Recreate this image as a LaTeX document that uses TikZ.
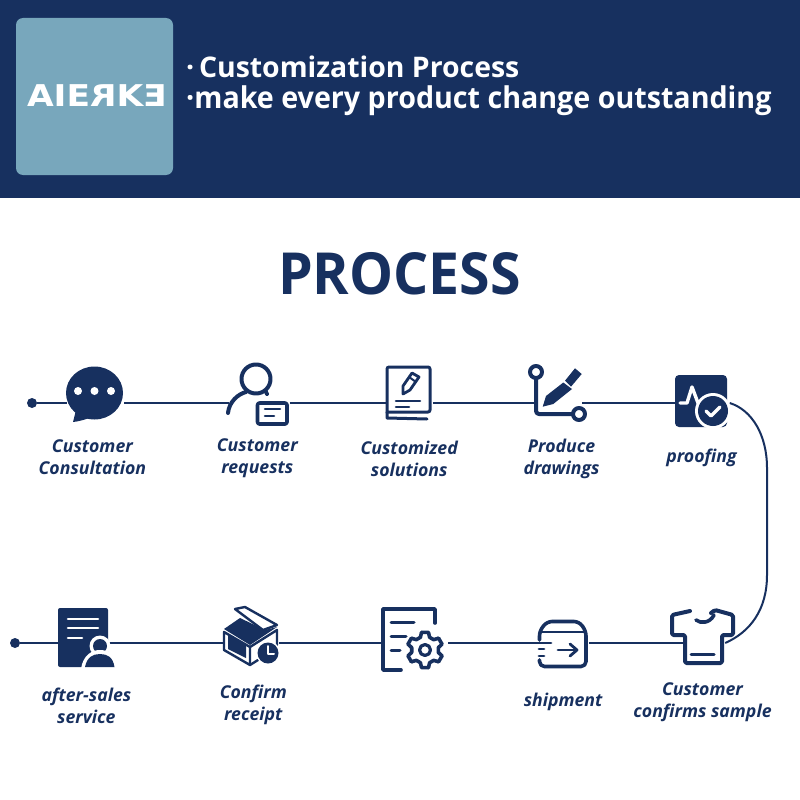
\documentclass[tikz,border=0pt]{standalone}
\usepackage{fontspec}
\setmainfont{Open Sans}
\newfontfamily\logofont{DejaVu Sans}
\usepackage{tikz}
\usetikzlibrary{positioning}
\definecolor{navy}{HTML}{17305F}
\definecolor{logoblue}{HTML}{78A7BC}

\begin{document}
\begin{tikzpicture}[
    x=1pt, y=-1pt,
    node distance=100pt,
    icon/.style={rectangle, inner sep=0pt, minimum height=40pt},
    label/.style={inner sep=0pt, align=center, text=navy, font=\fontsize{17.7}{22}\selectfont\bfseries\itshape},
    headline/.style={inner sep=0pt, anchor=west, text=white, font=\fontsize{30}{34}\selectfont\bfseries},
    startdot/.style={circle, fill=navy, inner sep=0pt, minimum size=10pt},
    link/.style={draw=navy, line width=2pt},
    iconline/.style={draw=navy, line width=3.6pt, line cap=round, line join=round},
    cutline/.style={draw=white, line width=3.4pt, line cap=round, line join=round}
]
    \useasboundingbox (0,0) rectangle (800,800);

    % Header band
    \fill[navy] (0,0) rectangle (800,198);
    \fill[logoblue, rounded corners=7pt] (16,18) rectangle (173,175);
    \node[inner sep=0pt, text=white] (logo) at (97,96) {\logofont\bfseries\fontsize{30}{30}\selectfont\scalebox{1.15}[1]{AIE\scalebox{-1}[1]{R}K\scalebox{-1}[1]{E}}};
    \node[headline, font=\fontsize{28.4}{30}\selectfont\bfseries] (headone) at (186,67) {\textperiodcentered\,Customization Process};
    \node[headline] (headtwo) at (186,101) {\scalebox{0.955}[1]{\textperiodcentered make every product change outstanding}};
    \node[inner sep=0pt, text=navy, font=\fontsize{58}{58}\selectfont\bfseries] (title) at (399.5,273.5) {\scalebox{0.955}[1]{PROCESS}};

    % Top row
    \node[startdot] (starttop) at (32,403) {};
    \node[icon, minimum width=57pt, right=29.5pt of starttop] (consult) {};
    \node[icon, minimum width=60pt, right=105pt of consult] (requests) {};
    \node[icon, minimum width=45pt, right=98pt of requests] (solutions) {};
    \node[icon, minimum width=45pt, right=104pt of solutions] (drawings) {};
    \node[icon, minimum width=52pt, right=95pt of drawings] (proofing) {};

    % Bottom row
    \node[startdot] (startbottom) at (15,643) {};
    \node[icon, minimum width=50pt, right=38pt of startbottom] (aftersales) {};
    \node[icon, minimum width=55pt, right=115pt of aftersales] (receipt) {};
    \node[icon, minimum width=67pt, right=102pt of receipt] (gearsheet) {};
    \node[icon, minimum width=49pt, right=91pt of gearsheet] (shipment) {};
    \node[icon, minimum width=41pt, right=95pt of shipment] (sample) {};

    % Labels
    \node[label, below=16pt of consult, xshift=-3pt] (lconsult) {Customer\\Consultation};
    \node[label, below=15pt of requests, xshift=-2pt] (lrequests) {Customer\\requests};
    \node[label, below=18pt of solutions, xshift=-1pt] (lsolutions) {Customized\\solutions};
    \node[label, below=16pt of drawings, xshift=2pt] (ldrawings) {Produce\\drawings};
    \node[label, below=26pt of proofing, xshift=-2pt] (lproofing) {proofing};
    \node[label, below=25pt of aftersales, xshift=3pt] (laftersales) {after-sales\\service};
    \node[label, below=22pt of receipt, xshift=2pt] (lreceipt) {Confirm\\receipt};
    \node[label, below=30pt of shipment, xshift=-1pt] (lshipment) {shipment};
    \node[label, below=19pt of sample, xshift=-2pt] (lsample) {Customer\\confirms sample};

    % Connections
    \draw[link] (starttop) -- (consult);
    \draw[link] (consult) -- (requests);
    \draw[link] (requests) -- (solutions);
    \draw[link] (solutions) -- (drawings);
    \draw[link] (drawings) -- (proofing);
    \draw[link] (proofing.east) .. controls (752,410) and (767,435) .. (767,468) -- (767,575) .. controls (767,610) and (750,632) .. (sample.east);
    \draw[link] (sample) -- (shipment);
    \draw[link] (shipment) -- (gearsheet);
    \draw[link] (gearsheet) -- (receipt);
    \draw[link] (receipt) -- (aftersales);
    \draw[link] (aftersales) -- (startbottom);

    % Speech bubble
    \fill[navy] (94.5,393) ellipse [x radius=28.5, y radius=26.5];
    \fill[navy] (76,410) -- (73,422) .. controls (82,421) and (90,418) .. (96,415) -- cycle;
    \foreach \dotx in {78,94.5,111}
        \fill[white] (\dotx,391) circle (4);

    % Person with card
    \draw[iconline, line width=4pt] (256,379) circle (14.5);
    \draw[iconline, line width=4pt] (228,413) .. controls (229,402) and (238,394) .. (246,392);
    \draw[iconline, line width=4pt] (266,392) -- (267,394);
    \draw[iconline, rounded corners=2pt] (257.5,403) rectangle (287,424);
    \draw[iconline, line width=2.6pt] (265,409) -- (280,409);
    \draw[iconline, line width=2.6pt] (265,416) -- (274,416);

    % Book with pencil
    \draw[iconline, line width=3pt, rounded corners=2pt] (387,413) -- (387,367) -- (430,367) -- (430,412) -- (387,412);
    \draw[iconline, line width=3pt] (387,412) -- (387,418) -- (427,419);
    \draw[iconline, line width=2.6pt] (396,401) -- (420,401);
    \draw[iconline, line width=2.6pt] (396,407) -- (409,407);
    \draw[iconline, line width=2.8pt] (403,394) -- (403,386) -- (412,373) -- (419,377) -- (410,390) -- cycle;
    \draw[iconline, line width=2pt] (409,377) -- (416,382);

    % Pen and nodes
    \draw[iconline, line width=4pt] (536,372) circle (6);
    \draw[iconline, line width=4pt, rounded corners=3pt] (536,379) -- (536,414) -- (572,414);
    \draw[iconline, line width=4pt] (579,414) circle (6);
    \fill[navy] (542.7,406.7) -- (546,396) -- (563.3,382.5) -- (572,389) -- (553.3,404) -- cycle;
    \fill[navy] (565,380.7) -- (575,368.3) -- (581.7,374) -- (571,386.7) -- cycle;

    % Proofing chart
    \fill[navy, rounded corners=4pt] (675,375) rectangle (727,427);
    \draw[cutline] (680,403) -- (687,403) -- (692,387) -- (698,403);
    \fill[white] (713,411) circle (18);
    \fill[navy] (713,411) circle (15);
    \draw[cutline] (706,411) -- (711,416) -- (720,407);

    % Sheet with person
    \fill[navy, rounded corners=2pt] (58,608) rectangle (108,667);
    \draw[cutline, line width=2.6pt] (68,619) -- (98,619);
    \draw[cutline, line width=2.6pt] (68,628) -- (98,628);
    \draw[cutline, line width=2.6pt] (68,638) -- (82,638);
    \fill[white] (100,646) circle (10.5);
    \fill[navy] (100,646) circle (7);
    \fill[white] (81,669) .. controls (83,655) and (92,650) .. (100,650) .. controls (108,650) and (117,655) .. (118,669) -- cycle;
    \fill[navy] (85,667) .. controls (87,657) and (93,654) .. (100,654) .. controls (107,654) and (113,657) .. (114.5,667) -- cycle;

    % Open box with clock
    \fill[navy] (224,629) -- (240,618) -- (265,630) -- (277,627) -- (250,645) -- cycle;
    \draw[iconline, line width=2.4pt] (235,609) -- (245,607) -- (277,625) -- (263,630) -- cycle;
    \draw[iconline, line width=2.4pt] (224,632) -- (250,647) -- (250,665) -- (224,650) -- cycle;
    \draw[iconline, line width=2.4pt] (250,647) -- (277,630) -- (277,645);
    \draw[iconline, line width=2.4pt] (250,665) -- (258,660);
    \fill[navy] (228,635) -- (246,645) -- (246,658) -- (228,649) -- cycle;
    \fill[white] (268,653) circle (12);
    \fill[navy] (268,653) circle (10.5);
    \draw[cutline, line width=2pt] (268,646) -- (268,654) -- (274,654);

    % Sheet with gear
    \draw[iconline] (435,623) -- (435,609) -- (383,609) -- (383,670) -- (401,670);
    \draw[iconline, line width=3pt] (391,622) -- (414,622);
    \draw[iconline, line width=3pt] (391,636) -- (406,636);
    \draw[iconline, line width=3pt] (391,650) -- (400,650);
    \begin{scope}[shift={(425,650)}]
        \foreach \toothang in {30,90,...,330}
            \draw[iconline, line width=3.6pt] (\toothang-11:18) -- (\toothang+11:18) -- (\toothang+20:13.5) -- (\toothang+40:13.5) -- (\toothang+49:18);
        \draw[iconline, line width=3.2pt] (0,0) circle (5.5);
    \end{scope}

    % Parcel
    \draw[iconline, rounded corners=5pt] (539.5,640) -- (539.5,631) -- (547,621.5) -- (579,621.5) -- (586,631) -- (586,666.5) -- (539.5,666.5) -- (539.5,660);
    \draw[iconline, line width=2.6pt] (539.5,632) -- (586,632);
    \draw[iconline, line width=2.8pt] (539,643) -- (551,643);
    \draw[iconline, line width=2.8pt] (539,649) -- (544,649);
    \draw[iconline, line width=2.8pt] (539,656) -- (544,656);
    \draw[iconline, line width=2.8pt] (558,650) -- (576,650);
    \draw[iconline, line width=2.8pt] (570,644) -- (577,650) -- (570,656);

    % Shirt
    \draw[iconline, line width=4pt, rounded corners=1.5pt] (690,611) -- (672,615) -- (672,635) -- (685,635) -- (685,663) -- (722,663) -- (722,635) -- (733,635) -- (733,615) -- (715,610) -- (711,613);
    \draw[iconline] (696,620) .. controls (701,624) and (710,623) .. (714,615);
    \draw[iconline, line width=3pt] (691,654.5) -- (714,654.5);

\end{tikzpicture}
\end{document}
